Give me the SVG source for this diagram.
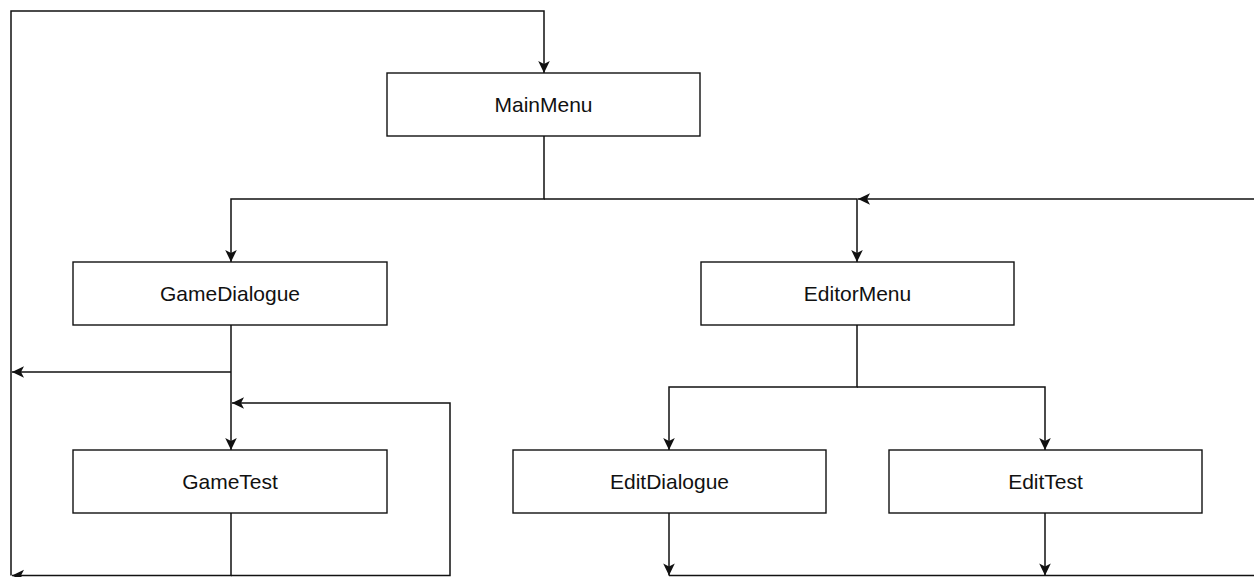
<svg xmlns="http://www.w3.org/2000/svg" width="1254" height="577" viewBox="0 0 1254 577">
<style>
.box{fill:#fff;stroke:#111;stroke-width:1.4}
.lbl{font-family:"Liberation Sans",Arial,sans-serif;font-size:21px;fill:#111;text-anchor:middle}
.ln{fill:none;stroke:#111;stroke-width:1.5}
.arw{fill:none;stroke:#111;stroke-width:1.5;marker-end:url(#arr)}
</style>
<defs>
<marker id="arr" markerWidth="14" markerHeight="14" viewBox="-14 -7 14 14" refX="0" refY="0" orient="auto" markerUnits="userSpaceOnUse">
<path d="M0,0 L-12,-5.8 L-9,0 L-12,5.8 Z" fill="#111"/>
</marker>
</defs>
<rect width="1254" height="577" fill="#fff"/>
<g id="connectors">
<path class="arw" d="M11,575.5 V11 H544 V73"/>
<path class="arw" d="M544,136 V199 H231 V262"/>
<path class="arw" d="M544,199 H857 V262"/>
<path class="arw" d="M1254,199 H858"/>
<path class="arw" d="M231,325 V450"/>
<path class="arw" d="M231,372 H12"/>
<path class="arw" d="M231,513 V575.5 H12"/>
<path class="arw" d="M231,575.5 H450 V403 H232"/>
<path class="arw" d="M857,325 V387 H669 V450"/>
<path class="arw" d="M857,387 H1045 V450"/>
<path class="arw" d="M669,513 V575.5"/>
<path class="arw" d="M1045,513 V575.5"/>
<path class="ln" d="M669,575.5 H1254"/>
</g>
<g id="MainMenu">
<rect class="box" x="387" y="73" width="313" height="63"/>
<text class="lbl" x="543.5" y="112">MainMenu</text>
</g>
<g id="GameDialogue">
<rect class="box" x="73" y="262" width="314" height="63"/>
<text class="lbl" x="230" y="301">GameDialogue</text>
</g>
<g id="EditorMenu">
<rect class="box" x="701" y="262" width="313" height="63"/>
<text class="lbl" x="857.5" y="301">EditorMenu</text>
</g>
<g id="GameTest">
<rect class="box" x="73" y="450" width="314" height="63"/>
<text class="lbl" x="230" y="489">GameTest</text>
</g>
<g id="EditDialogue">
<rect class="box" x="513" y="450" width="313" height="63"/>
<text class="lbl" x="669.5" y="489">EditDialogue</text>
</g>
<g id="EditTest">
<rect class="box" x="889" y="450" width="313" height="63"/>
<text class="lbl" x="1045.5" y="489">EditTest</text>
</g>
</svg>
